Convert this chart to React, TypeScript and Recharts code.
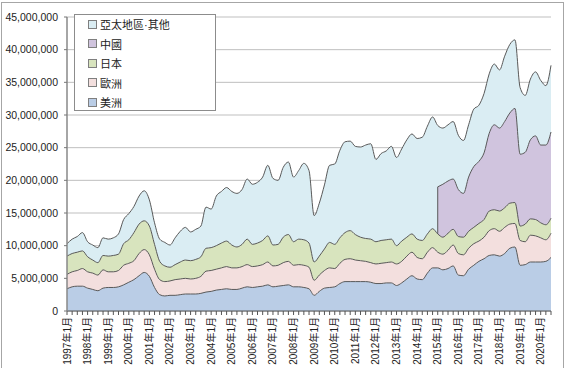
import { AreaChart, Area, XAxis, YAxis, CartesianGrid, ReferenceLine } from "recharts";

// quarterly samples, Jan 1997 .. Jul 2020
const MONTHS = [1, 4, 7, 10];
const LABELS: string[] = [];
for (let y = 1997; y <= 2020; y++) {
  for (const m of MONTHS) {
    if (y === 2020 && m > 7) break;
    LABELS.push(`${y}年${m}月`);
  }
}

// values in millions
const americas = [
  3.4, 3.7, 3.8, 3.8, 3.5, 3.3, 3.1, 3.5, 3.6, 3.6, 3.7, 4.0,
  4.4, 4.8, 5.4, 5.9, 5.3, 3.6, 2.5, 2.3, 2.4, 2.4, 2.5, 2.6,
  2.6, 2.6, 2.7, 2.9, 3.0, 3.2, 3.3, 3.4, 3.3, 3.3, 3.5, 3.7,
  3.6, 3.7, 3.8, 4.0, 3.7, 3.8, 3.9, 4.0, 3.7, 3.7, 3.6, 3.4,
  2.4, 3.0, 3.5, 3.6, 3.7, 4.2, 4.5, 4.5, 4.5, 4.5, 4.5, 4.4,
  4.2, 4.2, 4.3, 4.3, 3.9, 4.3, 4.9, 5.4, 4.9, 4.8, 5.8, 6.6,
  6.6, 6.3, 6.5, 6.9, 5.5, 5.4, 6.4, 7.0, 7.6, 8.0, 8.5, 8.6,
  8.4, 8.8, 9.6, 9.8, 7.0, 7.1, 7.5, 7.5, 7.5, 7.6, 8.2,
];

const europe = [
  2.2, 2.3, 2.4, 2.7, 2.5, 2.5, 2.4, 2.8, 2.4, 2.4, 2.5, 3.0,
  2.9, 2.9, 3.4, 3.5, 3.3, 2.8, 2.3, 2.2, 2.2, 2.4, 2.4, 2.4,
  2.3, 2.4, 2.6, 3.2, 3.2, 3.2, 3.3, 3.4, 3.3, 3.3, 3.3, 3.4,
  3.2, 3.2, 3.3, 3.5, 3.2, 3.2, 3.5, 3.6, 3.3, 3.4, 3.4, 3.3,
  2.3, 2.5, 2.7, 3.0, 2.8, 3.1, 3.4, 3.5, 3.3, 3.2, 3.1, 3.0,
  3.0, 3.1, 3.1, 3.2, 3.3, 3.3, 3.5, 3.6, 3.3, 3.2, 3.2, 3.1,
  2.4, 2.4, 2.8, 3.2, 3.3, 3.2, 3.2, 3.3, 3.1, 3.3, 3.8, 4.0,
  3.8, 4.0, 3.7, 3.6, 3.8, 3.5, 4.1, 4.0, 3.7, 3.3, 3.7,
];

const japan = [
  2.8, 2.8, 2.8, 2.7, 2.3, 2.0, 1.9, 2.2, 2.4, 2.5, 2.5, 3.3,
  3.6, 4.3, 4.5, 4.4, 4.4, 3.8, 2.8, 2.4, 2.1, 2.3, 2.6, 2.8,
  2.8, 2.9, 3.0, 3.5, 3.5, 3.6, 3.8, 3.9, 3.5, 3.2, 3.4, 3.9,
  3.4, 3.5, 3.7, 4.0, 3.2, 3.2, 3.9, 4.1, 3.6, 3.9, 3.9, 3.7,
  2.8, 2.9, 3.3, 3.9, 3.7, 3.9, 4.1, 4.3, 3.9, 3.6, 3.5, 3.6,
  3.4, 3.5, 3.5, 3.5, 2.8, 3.1, 2.9, 2.8, 2.8, 2.8, 2.8, 2.9,
  2.8, 2.6, 2.6, 2.4, 2.6, 2.7, 2.6, 2.5, 2.7, 2.7, 3.0, 2.9,
  3.1, 3.0, 3.2, 3.2, 2.2, 2.7, 2.5, 2.5, 2.3, 2.3, 2.3,
];

// reported separately from 2015 only
const china: (number | null)[] = [
  ...Array(72).fill(null),
  7.2, 8.1, 8.0, 7.7, 7.2, 6.7, 8.3, 9.3, 9.5, 10.2, 11.9, 13.0,
  12.7, 13.2, 13.8, 14.4, 11.0, 11.0, 12.1, 12.8, 11.9, 12.2, 13.2,
];

const asiaOther = [
  1.9, 2.2, 2.4, 2.8, 2.3, 2.3, 2.3, 2.7, 2.6, 2.7, 3.1, 3.7,
  4.0, 4.0, 4.3, 4.6, 4.0, 3.3, 3.4, 3.6, 3.4, 4.1, 4.7, 5.0,
  4.4, 4.6, 4.7, 6.3, 5.9, 7.6, 7.9, 8.2, 8.2, 8.2, 8.4, 9.2,
  9.2, 9.3, 9.7, 10.8, 10.2, 9.8, 10.7, 11.1, 9.9, 10.5, 11.7, 11.1,
  7.1, 8.1, 9.8, 11.8, 12.3, 13.4, 13.9, 13.7, 13.5, 13.8, 14.3, 14.6,
  12.6, 13.3, 13.6, 14.2, 13.5, 14.1, 14.9, 15.3, 15.4, 15.8, 16.5, 17.1,
  9.4, 8.6, 8.6, 8.8, 8.3, 8.1, 8.0, 8.8, 8.6, 9.1, 9.1, 9.3,
  8.9, 10.0, 10.5, 10.5, 10.2, 8.7, 9.3, 9.8, 9.9, 9.1, 10.2,
];

const Y_TICKS = [0, 5e6, 10e6, 15e6, 20e6, 25e6, 30e6, 35e6, 40e6, 45e6];

const SERIES = [
  { key: "asia", name: "亞太地區·其他", color: "#daedf3" },
  { key: "china", name: "中國", color: "#d0c4de" },
  { key: "japan", name: "日本", color: "#d8e4be" },
  { key: "europe", name: "歐洲", color: "#f3dfde" },
  { key: "americas", name: "美洲", color: "#bacde6" },
];

const M = 1e6;
// each area is drawn from 0 up to its running total, back to front
const data = LABELS.map((label, i) => {
  const a = americas[i] * M;
  const e = a + europe[i] * M;
  const j = e + japan[i] * M;
  const c = china[i] == null ? null : j + (china[i] as number) * M;
  const t = (c ?? j) + asiaOther[i] * M;
  return { label, americas: a, europe: e, japan: j, china: c, asia: t };
});

// left edge of the 中國 band where it starts
const chinaStart = data.find((d) => d.china != null)!;

const FONT = '"Liberation Sans", Arial, "Noto Sans CJK TC", sans-serif';

function MonthTick({ x, y, payload }: any) {
  const v: string = payload.value;
  if (!v.endsWith("年1月")) return <g />;
  return (
    <g transform={`translate(${x},${y})`}>
      <text
        transform="rotate(-90)"
        textAnchor="end"
        dy="0.35em"
        fontSize={10}
        fill="#222"
        fontFamily={FONT}
      >
        {v}
      </text>
    </g>
  );
}

export default function App() {
  return (
    <div
      style={{
        position: "absolute",
        left: 0,
        top: 0,
        width: 567,
        height: 368,
        overflow: "hidden",
        background: "#fff",
        fontFamily: FONT,
      }}
    >
      <div
        style={{
          position: "absolute",
          left: 1,
          top: 2,
          width: 561,
          height: 400,
          border: "1px solid #a6a6a6",
        }}
      />
      <AreaChart
        width={567}
        height={368}
        data={data}
        margin={{ top: 17, right: 16, bottom: 0, left: 0 }}
      >
        <CartesianGrid vertical={false} stroke="#bfbfbf" />
        <XAxis
          dataKey="label"
          height={57}
          interval={0}
          tick={<MonthTick />}
          tickSize={4}
          tickMargin={2}
          tickLine={{ stroke: "#555" }}
          axisLine={{ stroke: "#555" }}
        />
        <YAxis
          width={67}
          domain={[0, 45e6]}
          ticks={Y_TICKS}
          tickFormatter={(v: number) => v.toLocaleString("en-US")}
          tick={{ fill: "#222", fontSize: 10.5, fontFamily: FONT }}
          tickSize={3}
          tickMargin={6}
          tickLine={{ stroke: "#777" }}
          axisLine={{ stroke: "#888", strokeWidth: 1.5 }}
        />
        {SERIES.map((s) => (
          <Area
            key={s.key}
            dataKey={s.key}
            name={s.name}
            type="monotone"
            fill={s.color}
            fillOpacity={1}
            stroke="#595959"
            strokeWidth={1}
            baseValue={0}
            connectNulls={false}
            dot={false}
            activeDot={false}
            isAnimationActive={false}
          />
        ))}
        <ReferenceLine
          segment={[
            { x: chinaStart.label, y: chinaStart.japan },
            { x: chinaStart.label, y: chinaStart.china as number },
          ]}
          stroke="#595959"
          strokeWidth={1}
        />
      </AreaChart>
      <div
        style={{
          position: "absolute",
          left: 74,
          top: 14,
          width: 142,
          height: 97,
          boxSizing: "border-box",
          border: "1px solid #8c8c8c",
          background: "#fff",
        }}
      >
        {SERIES.map((s, i) => (
          <div
            key={s.key}
            style={{
              position: "absolute",
              left: 13,
              top: 1 + i * 19.6,
              height: 16,
              display: "flex",
              alignItems: "center",
              fontSize: 11,
              color: "#222",
            }}
          >
            <span
              style={{
                width: 7,
                height: 7,
                border: "1px solid #7f7f7f",
                background: s.color,
                marginRight: 3,
              }}
            />
            {s.name}
          </div>
        ))}
      </div>
    </div>
  );
}
